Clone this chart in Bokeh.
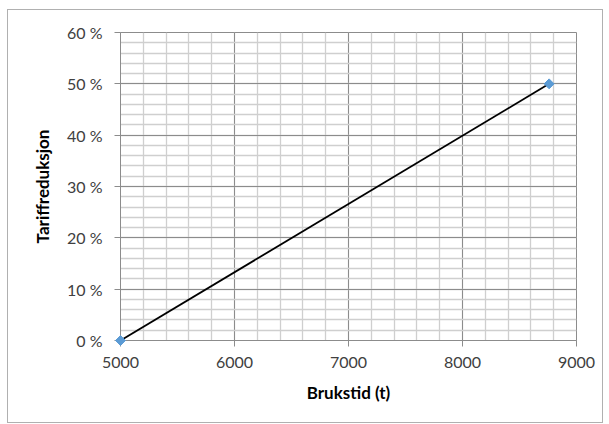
import math
from bokeh.plotting import figure
from bokeh.models import FixedTicker
from bokeh.embed import file_html
from bokeh.resources import INLINE

# Data
brukstid = [5000, 8760]
reduksjon = [0, 50]  # percent
x_ticks = [5000, 6000, 7000, 8000, 9000]
x_minor = list(range(5000, 9001, 200))
y_ticks = [0, 10, 20, 30, 40, 50, 60]
y_minor = list(range(0, 61, 2))

FONT = "Lato"
TXT = "#404040"

p = figure(width=596, height=414, output_backend="svg", toolbar_location=None,
           x_range=(5000, 9000), y_range=(0, 60),
           min_border_left=112, min_border_right=28, min_border_top=22,
           min_border_bottom=84)
p.styles = {"border": "1px solid #b0b0b0", "margin-left": "7px", "margin-top": "9px"}
p.background_fill_color = "white"
p.border_fill_color = "white"
p.outline_line_color = "#8c8c8c"

p.xaxis.ticker = FixedTicker(ticks=x_ticks, minor_ticks=x_minor)
p.yaxis.ticker = FixedTicker(ticks=y_ticks, minor_ticks=y_minor)
p.yaxis.major_label_overrides = {t: f"{t} %" for t in y_ticks}

for ax in (p.xaxis, p.yaxis):
    ax.axis_line_color = "#8c8c8c"
    ax.major_tick_line_color = "#8c8c8c"
    ax.major_tick_out = 6
    ax.major_tick_in = 0
    ax.minor_tick_line_color = None
    ax.major_label_text_font = FONT
    ax.major_label_text_font_size = "16px"
    ax.major_label_text_color = TXT
    ax.axis_label_text_font = FONT
    ax.axis_label_text_font_size = "17px"
    ax.axis_label_text_font_style = "bold"
    ax.axis_label_text_color = "black"

p.xaxis.axis_label = "Brukstid (t)"
p.yaxis.axis_label = "Tariffreduksjon"
p.xaxis.major_label_standoff = 10
p.yaxis.major_label_standoff = 12
p.xaxis.axis_label_standoff = 11
p.yaxis.axis_label_standoff = 11

for g in (p.xgrid, p.ygrid):
    g.grid_line_color = "#8c8c8c"
    g.grid_line_width = 1
    g.minor_grid_line_color = "#cfcfcf"
    g.minor_grid_line_width = 1.3

p.line(brukstid, reduksjon, line_color="black", line_width=1.8)
p.scatter(brukstid, reduksjon, marker="square", angle=math.pi / 4, size=7,
          fill_color="#5b9bd5", line_color="#5b9bd5", level="overlay")

open("out.html", "w").write(file_html(p, INLINE))
